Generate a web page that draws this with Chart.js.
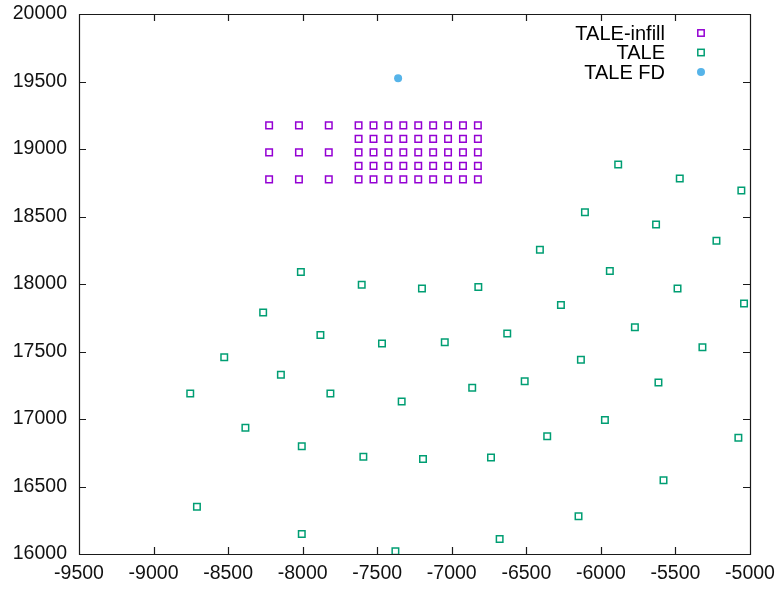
<!DOCTYPE html>
<html>
<head>
<meta charset="utf-8">
<script src="https://cdn.jsdelivr.net/npm/chart.js@4.4.1/dist/chart.umd.min.js"></script>
<style>
  html, body { margin: 0; padding: 0; background: #fff; }
</style>
</head>
<body>
<canvas id="chart" width="778" height="589"></canvas>
<script>
// axis ranges
const xRange = [-9500, -5000];
const yRange = [16000, 20000];

// TALE-infill grid: coarse part and fine part
const infillCoarseX = [-8225, -8025, -7825];
const infillCoarseY = [19175, 18975, 18775];
const infillFineX = [-7625, -7525, -7425, -7325, -7225, -7125, -7025, -6925, -6825];
const infillFineY = [19175, 19075, 18975, 18875, 18775];

// TALE stations
const taleX = [-5884, -5471, -5058, -8754, -8526, -8265, -8146, -8012, -7881, -7814,
  -7604, -7468, -6107, -5630, -5225, -6409, -5940, -7200, -6822, -5486,
  -6268, -5040, -5772, -7047, -6628, -5319, -6134, -6863, -6511, -5614,
  -7336, -8384, -8006, -7593, -8709, -8006, -7193, -6737, -6360, -5973,
  -5078, -5580, -6150, -6679, -7378];
const taleY = [18885, 18782, 18693, 17188, 17458, 17788, 17327, 18088, 17623, 17188,
  17994, 17559, 18532, 18441, 18320, 18253, 18097, 17966, 17977, 17966,
  17845, 17855, 17680, 17569, 17633, 17532, 17438, 17232, 17280, 17270,
  17129, 16936, 16798, 16721, 16350, 16148, 16704, 16714, 16872, 16993,
  16862, 16546, 16279, 16111, 16020];

// TALE FD
const fdX = [-7360];
const fdY = [19525];

const infill = [];
infillCoarseY.forEach(y => infillCoarseX.forEach(x => infill.push({x, y})));
infillFineY.forEach(y => infillFineX.forEach(x => infill.push({x, y})));
const tale = taleX.map((x, i) => ({x, y: taleY[i]}));
const fd = fdX.map((x, i) => ({x, y: fdY[i]}));

const FONT = '"Liberation Sans", Arial, Helvetica, sans-serif';

// gnuplot-style frame with inward ticks on all four sides
const frame = {
  id: 'frame',
  afterDatasetsDraw(chart) {
    const {ctx, chartArea: a, scales} = chart;
    ctx.save();
    ctx.strokeStyle = '#1a1a1a';
    ctx.lineWidth = 1.2;
    ctx.beginPath();
    ctx.rect(Math.round(a.left) + 0.5, Math.round(a.top) + 0.5,
      Math.round(a.right - a.left), Math.round(a.bottom - a.top));
    scales.x.ticks.forEach(t => {
      const px = Math.round(scales.x.getPixelForValue(t.value)) + 0.5;
      ctx.moveTo(px, a.bottom); ctx.lineTo(px, a.bottom - 7);
      ctx.moveTo(px, a.top); ctx.lineTo(px, a.top + 7);
    });
    scales.y.ticks.forEach(t => {
      const py = Math.round(scales.y.getPixelForValue(t.value)) + 0.5;
      ctx.moveTo(a.left, py); ctx.lineTo(a.left + 7, py);
      ctx.moveTo(a.right, py); ctx.lineTo(a.right - 7, py);
    });
    ctx.stroke();
    ctx.restore();
  }
};

// key in the top right corner: text right-aligned, symbol after it
const cornerLegend = {
  id: 'cornerLegend',
  afterDraw(chart) {
    const {ctx, chartArea: a} = chart;
    ctx.save();
    ctx.font = '20px ' + FONT;
    ctx.textAlign = 'right';
    ctx.textBaseline = 'middle';
    chart.data.datasets.forEach((ds, i) => {
      const y = a.top + 19 + i * 19.5;
      ctx.fillStyle = '#000';
      ctx.fillText(ds.label, a.right - 85, y + 1);
      const mx = a.right - 49;
      if (ds.pointStyle === 'rect') {
        ctx.strokeStyle = ds.borderColor;
        ctx.lineWidth = ds.borderWidth;
        ctx.strokeRect(mx - 3.2, y - 3.2, 6.4, 6.4);
      } else {
        ctx.fillStyle = ds.backgroundColor;
        ctx.beginPath();
        ctx.arc(mx, y, ds.pointRadius, 0, Math.PI * 2);
        ctx.fill();
      }
    });
    ctx.restore();
  }
};

new Chart(document.getElementById('chart'), {
  type: 'scatter',
  data: {
    datasets: [
      { label: 'TALE-infill', data: infill, pointStyle: 'rect', pointRadius: 4.6,
        borderColor: '#9400d3', backgroundColor: 'rgba(0,0,0,0)', borderWidth: 1.5 },
      { label: 'TALE', data: tale, pointStyle: 'rect', pointRadius: 4.6,
        borderColor: '#009e73', backgroundColor: 'rgba(0,0,0,0)', borderWidth: 1.5 },
      { label: 'TALE FD', data: fd, pointStyle: 'circle', pointRadius: 4,
        borderColor: '#56b4e9', backgroundColor: '#56b4e9', borderWidth: 0 }
    ]
  },
  options: {
    responsive: false,
    animation: false,
    devicePixelRatio: 1,
    layout: { padding: { top: 14, right: 28, left: 0, bottom: 0 } },
    plugins: { legend: { display: false }, tooltip: { enabled: false } },
    scales: {
      x: {
        type: 'linear', min: xRange[0], max: xRange[1],
        grid: { display: false, drawTicks: false }, border: { display: false },
        ticks: { stepSize: 500, color: '#111', padding: 8, maxRotation: 0,
          font: { size: 19.5, family: FONT }, callback: v => String(v) },
        afterFit: s => { s.height = 35; s.paddingLeft = 0; s.paddingRight = 0; }
      },
      y: {
        type: 'linear', min: yRange[0], max: yRange[1],
        grid: { display: false, drawTicks: false }, border: { display: false },
        ticks: { stepSize: 500, color: '#111', padding: 12,
          font: { size: 19.5, family: FONT }, callback: v => String(v) },
        afterFit: s => { s.width = 79; s.paddingTop = 0; s.paddingBottom = 0; }
      }
    }
  },
  plugins: [frame, cornerLegend]
});
</script>
</body>
</html>
